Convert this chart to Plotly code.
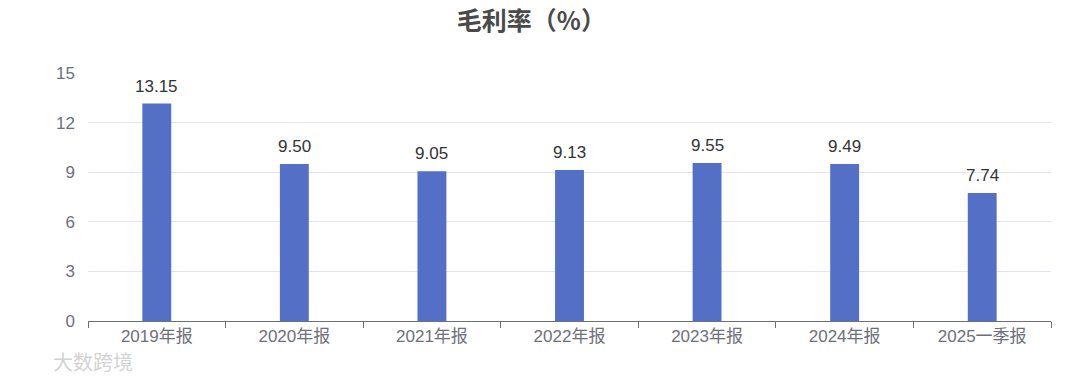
import plotly.graph_objects as go

categories = ["2019年报", "2020年报", "2021年报", "2022年报", "2023年报", "2024年报", "2025一季报"]
values = [13.15, 9.50, 9.05, 9.13, 9.55, 9.49, 7.74]
y_ticks = [0, 3, 6, 9, 12, 15]
title_text = "毛利率（%）"

FONT = "Liberation Sans, Noto Sans CJK SC, sans-serif"
CJK = "Noto Sans CJK SC, sans-serif"

fig = go.Figure()
fig.add_trace(go.Bar(
    x=categories, y=values,
    marker=dict(color="#5470c6", line=dict(width=0)),
    width=0.21,
    hoverinfo="skip",
))

annotations = [
    dict(x=c, y=v, xref="x", yref="y", text=f"{v:.2f}", showarrow=False,
         xanchor="center", yanchor="bottom", yshift=6,
         font=dict(size=17, color="#333333", family=FONT))
    for c, v in zip(categories, values)
]
annotations.append(dict(
    text="大数跨境", xref="paper", yref="paper", x=-0.038, y=-0.165,
    xanchor="left", yanchor="middle", showarrow=False,
    font=dict(size=20, color="rgba(190,190,190,0.7)", family=CJK),
))

fig.update_layout(
    width=1080, height=379,
    margin=dict(l=88, r=29, t=73, b=58),
    paper_bgcolor="white", plot_bgcolor="white",
    showlegend=False,
    title=dict(text="<b>" + title_text + "</b>", x=0.492, xanchor="center", y=0.943, yanchor="middle",
               font=dict(size=25, color="#4a4a4a", family=CJK)),
    font=dict(family=FONT),
    xaxis=dict(
        showline=True, linecolor="#6e7079", linewidth=1,
        ticks="outside", tickson="boundaries", ticklen=6, tickcolor="#6e7079",
        tickfont=dict(size=17, color="#6e7079", family=FONT),
        showgrid=False,
    ),
    yaxis=dict(
        range=[0, 15], tickvals=y_ticks,
        showgrid=True, gridcolor="#e0e6f1", gridwidth=1,
        zeroline=False, showline=False,
        tickfont=dict(size=17, color="#6e7079", family=FONT),
        ticklabelstandoff=12,
    ),
    annotations=annotations,
)

fig.write_html("out.html")
